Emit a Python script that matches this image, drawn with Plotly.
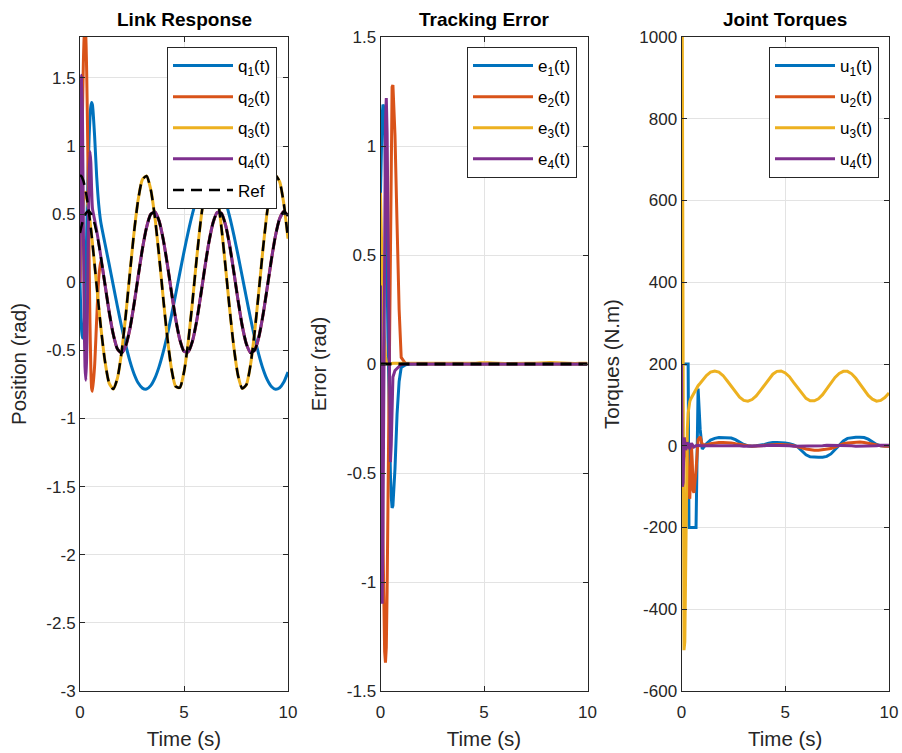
import plotly.graph_objects as go

# ---------------- data ----------------
t = [0, 0.04, 0.08, 0.12, 0.16, 0.2, 0.24, 0.28, 0.32, 0.36, 0.4, 0.44, 0.48, 0.52, 0.56, 0.6,
     0.7, 0.8, 0.9, 1.0, 1.2, 1.4, 1.6, 1.8, 2.0, 2.2, 2.4, 2.6, 2.8, 3.0, 3.2, 3.4, 3.6, 3.8,
     4.0, 4.2, 4.4, 4.6, 4.8, 5.0, 5.2, 5.4, 5.6, 5.8, 6.0, 6.2, 6.4, 6.6, 6.8, 7.0, 7.2, 7.4,
     7.6, 7.8, 8.0, 8.2, 8.4, 8.6, 8.8, 9.0, 9.2, 9.4, 9.6, 9.8, 10.0]

# Link response (rad)
q1 = [0.0, -0.22, -0.36, -0.41, -0.40, -0.32, -0.15, 0.08, 0.35, 0.62, 0.87, 1.07, 1.21, 1.29, 1.32, 1.30,
      1.08, 0.78, 0.57, 0.44,
      0.284, 0.133, -0.023, -0.178, -0.327, -0.462, -0.579, -0.673, -0.740, -0.777, -0.784, -0.759,
      -0.704, -0.621, -0.513, -0.385, -0.241, -0.088, 0.069, 0.223, 0.368, 0.498, 0.609, 0.695, 0.754,
      0.782, 0.780, 0.746, 0.682, 0.592, 0.478, 0.344, 0.197, 0.042, -0.114, -0.266, -0.408, -0.533,
      -0.637, -0.715, -0.765, -0.785, -0.774, -0.732, -0.659]
q2 = [0.0, 0.30, 0.80, 1.25, 1.60, 1.80, 1.87, 1.80, 1.55, 1.15, 0.65, 0.15, -0.30, -0.62, -0.78, -0.80,
      -0.62, -0.28, 0.03, 0.16,
      -0.015, -0.216, -0.383, -0.490, -0.519, -0.466, -0.340, -0.160, 0.046, 0.244, 0.403, 0.499,
      0.516, 0.452, 0.316, 0.131, -0.076, -0.270, -0.422, -0.507, -0.512, -0.436, -0.292, -0.101,
      0.106, 0.296, 0.439, 0.513, 0.506, 0.419, 0.266, 0.071, -0.135, -0.320, -0.454, -0.517, -0.498,
      -0.400, -0.239, -0.041, 0.164, 0.343, 0.468, 0.519, 0.488]
q3 = [0.0, 0.20, 0.36, 0.49, 0.58, 0.63, 0.66, 0.655, 0.628, 0.590, 0.547, 0.500, 0.450, 0.397, 0.342,
      0.284, 0.133, -0.023, -0.178, -0.327,
      -0.579, -0.740, -0.784, -0.704, -0.513, -0.241, 0.069, 0.368, 0.609, 0.754, 0.780, 0.682, 0.478,
      0.197, -0.114, -0.408, -0.637, -0.765, -0.773, -0.659, -0.441, -0.153, 0.160, 0.447, 0.662,
      0.774, 0.764, 0.633, 0.402, 0.107, -0.204, -0.482, -0.686, -0.780, -0.752, -0.604, -0.361,
      -0.062, 0.248, 0.518, 0.707, 0.784, 0.737, 0.574, 0.320]
q4 = [0.0, 0.95, 1.52, 1.20, 0.45, -0.25, -0.62, -0.72, -0.55, -0.15, 0.35, 0.78, 0.96, 0.88, 0.68,
      0.54, 0.46, 0.38, 0.29, 0.19,
      -0.015, -0.216, -0.383, -0.490, -0.519, -0.466, -0.340, -0.160, 0.046, 0.244, 0.403, 0.499,
      0.516, 0.452, 0.316, 0.131, -0.076, -0.270, -0.422, -0.507, -0.512, -0.436, -0.292, -0.101,
      0.106, 0.296, 0.439, 0.513, 0.506, 0.419, 0.266, 0.071, -0.135, -0.320, -0.454, -0.517, -0.498,
      -0.400, -0.239, -0.041, 0.164, 0.343, 0.468, 0.519, 0.488]
ref3 = [0.785, 0.782, 0.775, 0.762, 0.745, 0.723, 0.696, 0.665, 0.630, 0.590, 0.547, 0.500, 0.450,
        0.397, 0.342, 0.284, 0.133, -0.023, -0.178, -0.327,
        -0.579, -0.740, -0.784, -0.704, -0.513, -0.241, 0.069, 0.368, 0.609, 0.754, 0.780, 0.682, 0.478,
        0.197, -0.114, -0.408, -0.637, -0.765, -0.773, -0.659, -0.441, -0.153, 0.160, 0.447, 0.662,
        0.774, 0.764, 0.633, 0.402, 0.107, -0.204, -0.482, -0.686, -0.780, -0.752, -0.604, -0.361,
        -0.062, 0.248, 0.518, 0.707, 0.784, 0.737, 0.574, 0.320]
ref4 = [0.362, 0.391, 0.417, 0.441, 0.461, 0.479, 0.494, 0.505, 0.513, 0.518, 0.520, 0.518, 0.513,
        0.505, 0.494, 0.479, 0.429, 0.362, 0.281, 0.188,
        -0.015, -0.216, -0.383, -0.490, -0.519, -0.466, -0.340, -0.160, 0.046, 0.244, 0.403, 0.499,
        0.516, 0.452, 0.316, 0.131, -0.076, -0.270, -0.422, -0.507, -0.512, -0.436, -0.292, -0.101,
        0.106, 0.296, 0.439, 0.513, 0.506, 0.419, 0.266, 0.071, -0.135, -0.320, -0.454, -0.517, -0.498,
        -0.400, -0.239, -0.041, 0.164, 0.343, 0.468, 0.519, 0.488]

# Tracking error (rad)
e1 = [0.785, 1.00, 1.14, 1.19, 1.18, 1.09, 0.91, 0.67, 0.40, 0.12, -0.15, -0.36, -0.51, -0.61, -0.66,
      -0.65, -0.48, -0.23, -0.08, -0.016,
      -0.004, -0.001, 0.0, 0.0, 0.001, 0.001, 0.001, 0.0, 0.0, 0.0, 0.0, 0.0, -0.001, -0.001, -0.001,
      0.0, 0.0, 0.0, 0.0, 0.0, 0.0, 0.0, 0.0, 0.001, 0.001, 0.001, 0.0, 0.0, -0.001, -0.001, -0.001,
      0.0, 0.0, 0.0, 0.0, 0.0, 0.0, 0.0, 0.0, 0.001, 0.001, 0.001, 0.0, 0.0, 0.0]
e2 = [0.40, 0.09, -0.38, -0.81, -1.14, -1.32, -1.37, -1.30, -1.04, -0.63, -0.13, 0.37, 0.81, 1.12, 1.27,
      1.28, 1.05, 0.64, 0.25, 0.03,
      0.003, 0.001, 0.0, 0.0, 0.0, 0.001, 0.001, 0.001, 0.0, 0.0, 0.0, 0.0, 0.0, 0.0, 0.001, 0.001,
      0.001, 0.0, 0.0, 0.0, 0.0, 0.0, 0.0, -0.001, -0.001, -0.001, 0.0, 0.0, 0.0, 0.0, 0.0, 0.001, 0.001,
      0.001, 0.0, 0.0, 0.0, 0.0, 0.0, 0.0, 0.0, 0.0, 0.0, 0.0, 0.0]
e3 = [0.785, 0.58, 0.415, 0.27, 0.165, 0.09, 0.036, 0.01, 0.002, 0.0, 0.0, 0.001, 0.002, 0.003, 0.003,
      0.003, 0.003, 0.003, 0.003, 0.003,
      0.003, 0.004, 0.005, 0.005, 0.004, 0.003, 0.002, 0.002, 0.002, 0.003, 0.004, 0.005, 0.005, 0.005,
      0.004, 0.003, 0.003, 0.004, 0.006, 0.007, 0.006, 0.005, 0.003, 0.002, 0.002, 0.002, 0.003, 0.004,
      0.005, 0.005, 0.004, 0.003, 0.003, 0.004, 0.006, 0.007, 0.006, 0.005, 0.003, 0.002, 0.002, 0.002,
      0.003, 0.004, 0.004]
e4 = [0.36, -0.56, -1.10, -0.76, 0.01, 0.73, 1.11, 1.22, 1.06, 0.67, 0.17, -0.26, -0.45, -0.37, -0.19,
      -0.06, -0.03, -0.02, -0.01, -0.002,
      0.0, 0.0, 0.0, 0.0, 0.0, 0.0, 0.0, 0.0, 0.0, 0.0, 0.0, 0.0, 0.0, 0.0, 0.0, 0.0, 0.0, 0.0, 0.0,
      0.0, 0.0, 0.0, 0.0, 0.0, 0.0, 0.0, 0.0, 0.0, 0.0, 0.0, 0.0, 0.0, 0.0, 0.0, 0.0, 0.0, 0.0, 0.0,
      0.0, 0.0, 0.0, 0.0, 0.0, 0.0, 0.0]
zero_t = [0, 10]
zero_e = [0, 0]

# Joint torques (N.m)
u1 = [200, 200, 200, 200, 200, 200, 200, 200, 200, -200, -200, -200, -200, -200, -200, -200, -200,
      140, 40, -8,
      5, 14, 18, 20, 20, 20, 19, 15, 9, 3, 0, -1, 0, 1, 3, 6, 8, 8, 8, 7, 5, 2, -3, -12, -22, -27, -28,
      -28, -28, -26, -20, -10, 2, 12, 18, 20, 21, 21, 20, 16, 9, 3, 0, -1, -1]
u2 = [0, -60, -100, -40, 10, 20, 10, -20, -80, -120, -130, -60, 0, -40, -110, -115, -60, 15, 22, 3,
      2, 5, 7, 8, 8, 8, 7, 5, 3, 1, 0, -1, -1, 0, 1, 2, 3, 3, 3, 3, 2, 0, -2, -5, -8, -10, -11, -11, -10,
      -9, -7, -3, 1, 5, 7, 8, 9, 9, 8, 6, 3, 1, 0, -1, -1]
u3 = [1000, 1000, 200, -500, -480, -250, -60, 40, 80, 100, 108, 114, 118, 123, 127, 131, 139, 147, 153,
      159,
      172, 180, 183, 180, 172, 159, 145, 131, 119, 111, 109, 113, 122, 135, 149, 163, 175, 182, 183, 178,
      169, 155, 141, 127, 116, 110, 110, 115, 125, 139, 154, 167, 177, 182, 182, 176, 165, 151, 136, 123,
      114, 109, 111, 118, 129]
u4 = [200, -100, -90, 20, 10, -10, -5, 8, 5, -5, -8, 0, 6, 3, -2, -3, 0, 1, 0, 0,
      0, 0, 1, 1, 1, 1, 0, 0, 0, -1, -1, -1, 0, 0, 0, 1, 1, 1, 0, 0, 0, -1, -1, -1, -1, -1, 0, 0, 0, 1,
      1, 1, 1, 0, 0, 0, -1, -1, -1, 0, 0, 0, 1, 1, 1]

q_names = ["q<sub>1</sub>(t)", "q<sub>2</sub>(t)", "q<sub>3</sub>(t)", "q<sub>4</sub>(t)"]
e_names = ["e<sub>1</sub>(t)", "e<sub>2</sub>(t)", "e<sub>3</sub>(t)", "e<sub>4</sub>(t)"]
u_names = ["u<sub>1</sub>(t)", "u<sub>2</sub>(t)", "u<sub>3</sub>(t)", "u<sub>4</sub>(t)"]

x_tickvals = [0, 5, 10]
x_ticktext = ["0", "5", "10"]
y1_tickvals = [-3, -2.5, -2, -1.5, -1, -0.5, 0, 0.5, 1, 1.5]
y1_ticktext = ["-3", "-2.5", "-2", "-1.5", "-1", "-0.5", "0", "0.5", "1", "1.5"]
y2_tickvals = [-1.5, -1, -0.5, 0, 0.5, 1, 1.5]
y2_ticktext = ["-1.5", "-1", "-0.5", "0", "0.5", "1", "1.5"]
y3_tickvals = [-600, -400, -200, 0, 200, 400, 600, 800, 1000]
y3_ticktext = ["-600", "-400", "-200", "0", "200", "400", "600", "800", "1000"]

# ---------------- style ----------------
colors = ["#0072BD", "#D95319", "#EDB120", "#7E2F8E"]
FONT = "Liberation Sans, Arial, Helvetica, sans-serif"
W, H = 902, 753
LW = 3

fig = go.Figure()

for i, (y, name, c) in enumerate(zip([q1, q2, q3, q4], q_names, colors)):
    fig.add_trace(go.Scatter(x=t, y=y, mode="lines", name=name, xaxis="x", yaxis="y",
                             legend="legend", legendgroup="q%d" % i,
                             line=dict(color=c, width=LW, shape="spline", smoothing=0.6)))
for i, r in enumerate([ref3, ref4]):
    fig.add_trace(go.Scatter(x=t, y=r, mode="lines", name="Ref", xaxis="x", yaxis="y",
                             legend="legend", legendgroup="ref", showlegend=(i == 0),
                             line=dict(color="black", width=2.5, dash="11px,7px",
                                       shape="spline", smoothing=0.6)))

for i, (y, name, c) in enumerate(zip([e1, e2, e3, e4], e_names, colors)):
    fig.add_trace(go.Scatter(x=t, y=y, mode="lines", name=name, xaxis="x2", yaxis="y2",
                             legend="legend2", legendgroup="e%d" % i,
                             line=dict(color=c, width=LW)))
fig.add_trace(go.Scatter(x=zero_t, y=zero_e, mode="lines", showlegend=False,
                         xaxis="x2", yaxis="y2",
                         line=dict(color="black", width=3, dash="11px,7px")))

for i, (y, name, c) in enumerate(zip([u1, u2, u3, u4], u_names, colors)):
    fig.add_trace(go.Scatter(x=t, y=y, mode="lines", name=name, xaxis="x3", yaxis="y3",
                             legend="legend3", legendgroup="u%d" % i,
                             line=dict(color=c, width=LW)))

ydom = [1 - 691 / H, 1 - 37 / H]
xdoms = [[80 / W, 288 / W], [380.5 / W, 587.5 / W], [681.5 / W, 889 / W]]

axis_common = dict(showline=True, linecolor="#262626", linewidth=1, mirror="ticks",
                   ticks="inside", ticklen=5, tickcolor="#262626", showgrid=True,
                   gridcolor="#e3e3e3", gridwidth=1, zeroline=False, automargin=False,
                   tickfont=dict(family=FONT, size=17, color="#262626"),
                   title_font=dict(family=FONT, size=20.5, color="#262626"))

ylabels = ["Position (rad)", "Error (rad)", "Torques (N.m)"]
yranges = [[-3, 1.8], [-1.5, 1.5], [-600, 1000]]
yticks = [(y1_tickvals, y1_ticktext), (y2_tickvals, y2_ticktext), (y3_tickvals, y3_ticktext)]

layout = dict(width=W, height=H, margin=dict(l=0, r=0, t=0, b=0, autoexpand=False),
              paper_bgcolor="white", plot_bgcolor="white",
              font=dict(family=FONT, color="#262626"))
for k in range(3):
    sx = "" if k == 0 else str(k + 1)
    layout["xaxis" + sx] = dict(axis_common, domain=xdoms[k], range=[0, 10],
                                anchor="y" + sx, tickvals=x_tickvals, ticktext=x_ticktext,
                                ticklabelstandoff=6,
                                title=dict(text="Time (s)", standoff=10))
    layout["yaxis" + sx] = dict(axis_common, domain=ydom, range=yranges[k],
                                anchor="x" + sx, tickvals=yticks[k][0], ticktext=yticks[k][1],
                                title=dict(text=ylabels[k], standoff=14))
fig.update_layout(**layout)

titles = ["Link Response", "Tracking Error", "Joint Torques"]
for k in range(3):
    fig.add_annotation(text="<b>" + titles[k] + "</b>", xref="paper", yref="paper",
                       x=(xdoms[k][0] + xdoms[k][1]) / 2, y=1 - 20 / H,
                       xanchor="center", yanchor="middle", showarrow=False,
                       font=dict(family=FONT, size=19, color="black"))

leg_common = dict(xanchor="left", yanchor="top", bgcolor="white", bordercolor="#262626",
                  borderwidth=1, font=dict(family=FONT, size=17, color="black"),
                  itemwidth=60, tracegroupgap=6)
fig.update_layout(
    legend=dict(leg_common, x=167 / W, y=1 - 47 / H),
    legend2=dict(leg_common, x=467 / W, y=1 - 47 / H),
    legend3=dict(leg_common, x=769 / W, y=1 - 47 / H),
)

fig.write_html("out.html", config={"displayModeBar": False},
               post_script="document.body.style.margin='0px';")
